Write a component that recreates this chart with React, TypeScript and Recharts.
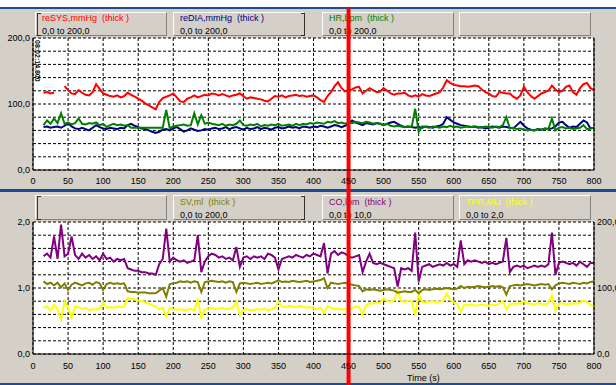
import { ComposedChart, Line, XAxis, YAxis, CartesianGrid, ReferenceLine } from "recharts";

// sampling grid of the recording, seconds
const TIME = Array.from({ length: 158 }, (_, i) => 15 + i * 5);

const X_TICKS = [0, 50, 100, 150, 200, 250, 300, 350, 400, 450, 500, 550, 600, 650, 700, 750, 800];
const P_TICKS = [0, 20, 40, 60, 80, 100, 120, 140, 160, 180, 200];
const TPR_TICKS = [0, 0.2, 0.4, 0.6, 0.8, 1, 1.2, 1.4, 1.6, 1.8, 2];
const CURSOR_T = 450;

const SYS = [
  117, 118, 116, 117, null, null, 127, 121, 116, 115,
  121, 117, 114, 113, 118, 130, 123, 116, 114, 112,
  111, 113, 110, 112, 117, 114, 111, 108, 105, 101,
  98, 95, 92, 103, 109, 111, 113, 116, 110, 104,
  103, 108, 110, 113, 110, 112, 114, 113, 116, 115,
  113, 115, 113, 111, 113, 114, 116, 112, 108, 110,
  109, 108, 107, 105, 104, 108, 112, 111, 113, 110,
  112, 113, 114, 112, 113, 111, 112, 113, 110, 106,
  103, 112, 118, 127, 133, 124, 119, 121, 122, 125,
  126, 116, 120, 124, 121, 118, 119, 124, 120, 116,
  114, 116, 116, 117, 113, 111, 113, 111, 115, 113,
  112, 114, 116, 118, 125, 136, 132, 129, 128, 127,
  127, 126, 127, 128, 127, 122, 118, 116, 112, 111,
  118, 117, 116, 116, 111, 108, 113, 126, 118, 112,
  108, 112, 116, 118, 120, 128, 122, 118, 120, 126,
  128, 118, 114, 124, 130, 132, 124, 121,
];

const DIA = [
  65, 66, 64, 65, 66, 64, 67, 71, 66, 63,
  62, 64, 62, 60, 64, 68, 65, 63, 62, 64,
  63, 62, 64, 63, 68, 70, 67, 65, 63, 62,
  60, 58, 56, 58, 61, 62, 60, 63, 65, 62,
  58, 60, 63, 61, 59, 60, 62, 61, 63, 64,
  62, 63, 65, 62, 64, 65, 63, 61, 64, 62,
  63, 65, 62, 64, 63, 61, 64, 65, 63, 64,
  66, 64, 65, 63, 66, 65, 64, 66, 65, 67,
  66, 64, 66, 68, 67, 65, 67, 70, 75, 72,
  70, 68, 71, 70, 69, 71, 70, 68, 70, 72,
  73, 70, 67, 65, 66, 65, 64, 65, 64, 66,
  65, 64, 66, 67, 70, 80, 76, 72, 70, 68,
  67, 66, 65, 66, 64, 65, 63, 64, 66, 65,
  64, 66, 65, 64, 63, 68, 73, 67, 63, 61,
  60, 62, 61, 63, 62, 63, 66, 72, 73, 68,
  64, 66, 65, 70, 75, 72, 63, 64,
];

const HR = [
  68, 75, 70, 78, 71, 86, 70, 72, 69, 71,
  78, 70, 69, 71, 70, 72, 68, 70, 65, 68,
  70, 68, 69, 67, 68, 64, 64, 64, 64, 64,
  64, 64, 64, 64, 64, 91, 63, 66, 67, 68,
  69, 67, 68, 86, 69, 83, 70, 72, 70, 69,
  68, 70, 67, 69, 68, 70, 75, 68, 67, 69,
  68, 70, 66, 68, 67, 69, 68, 70, 67, 68,
  69, 67, 70, 68, 70, 69, 71, 70, 72, 71,
  70, 73, 72, 74, 71, 72, 70, 72, 71, 73,
  72, 71, 73, 72, 70, 71, 70, 68, 70, 67,
  66, 67, 66, 65, 66, 65, 93, 58, 66, 65,
  64, 66, 65, 64, 66, 65, 67, 65, 66, 64,
  65, 66, 65, 66, 65, 64, 66, 65, 64, 66,
  65, 68, 80, 63, 64, 62, 63, 61, 60, 61,
  60, 62, 61, 63, 62, 78, 60, 64, 65, 63,
  64, 62, 63, 64, 68, 62, 63, 64,
];

const CO = [
  7.4, 7.6, 7.3, 8.9, 7.2, 9.8, 7.4, 7.6, 8.9, 7.5,
  7.2, 7.6, 7.3, 7.5, 7.2, 7.4, 7.1, 7.6, 7.2, 7.3,
  7.0, 7.2, 7.1, 7.2, 6.5, 6.4, 6.3, 6.3, 6.2, 6.2,
  6.1, 6.1, 6.0, 6.8, 7.2, 9.5, 7.0, 7.3, 7.1, 7.0,
  7.1, 6.9, 7.0, 7.1, 9.0, 6.2, 7.0, 7.4, 7.6, 7.5,
  7.3, 7.4, 7.2, 7.3, 7.1, 8.1, 6.6, 7.3, 7.4, 7.2,
  7.4, 7.3, 7.4, 7.2, 7.6, 7.5, 7.3, 6.4, 7.2, 7.3,
  7.4, 7.3, 7.5, 7.4, 7.3, 7.5, 7.4, 7.6, 7.5, 7.4,
  8.4, 6.1, 7.6, 7.8, 7.5, 7.7, 7.6, 7.4, 7.3, 7.4,
  7.5, 6.2, 7.0, 7.6, 6.9, 6.8, 6.9, 6.8, 6.7, 6.6,
  6.5, 5.1, 6.5, 6.4, 6.5, 6.3, 9.2, 5.5, 6.6, 6.7,
  6.8, 6.6, 6.7, 6.8, 6.7, 6.9, 6.7, 6.8, 6.6, 8.6,
  6.8, 7.1, 7.0, 7.1, 7.0, 6.9, 7.0, 6.8, 6.9, 6.8,
  6.9, 7.0, 8.8, 6.2, 6.6, 6.7, 6.6, 6.7, 6.5, 6.6,
  6.7, 6.6, 6.7, 6.6, 6.8, 9.2, 6.0, 6.9, 7.0, 6.9,
  6.8, 6.9, 6.7, 7.0, 6.8, 6.6, 6.9, 6.9,
];

const SV = [
  110, 106, 108, 104, 108, 101, 107, 97, 105, 108,
  106, 104, 107, 108, 105, 109, 107, 97, 106, 108,
  106, 107, 106, 107, 95, 94, 94, 93, 93, 93,
  92, 92, 92, 96, 100, 87, 106, 107, 108, 110,
  109, 110, 108, 110, 109, 94, 109, 110, 111, 110,
  109, 110, 108, 110, 109, 94, 107, 108, 107, 106,
  107, 108, 106, 107, 108, 107, 109, 112, 109, 110,
  109, 111, 110, 109, 110, 111, 109, 110, 111, 112,
  115, 100, 108, 107, 106, 107, 108, 106, 105, 104,
  103, 95, 98, 97, 98, 97, 96, 97, 98, 97,
  96, 93, 94, 95, 94, 94, 97, 92, 97, 98,
  97, 98, 99, 98, 99, 100, 99, 98, 99, 103,
  100, 102, 101, 102, 103, 102, 101, 102, 103, 102,
  103, 101, 90, 103, 104, 105, 104, 105, 106, 105,
  104, 105, 106, 105, 106, 98, 104, 107, 108, 107,
  106, 108, 107, 106, 108, 107, 109, 110,
];

const TPR = [
  0.70, 0.72, 0.66, 0.75, 0.68, 0.52, 0.79, 0.70, 0.55, 0.72,
  0.71, 0.68, 0.70, 0.66, 0.68, 0.67, 0.69, 0.78, 0.70, 0.71,
  0.70, 0.72, 0.71, 0.72, 0.85, 0.84, 0.83, 0.81, 0.80, 0.78,
  0.76, 0.74, 0.72, 0.68, 0.70, 0.57, 0.70, 0.68, 0.67, 0.68,
  0.66, 0.67, 0.68, 0.66, 0.82, 0.55, 0.67, 0.69, 0.70, 0.68,
  0.69, 0.70, 0.68, 0.69, 0.70, 0.79, 0.59, 0.67, 0.68, 0.66,
  0.67, 0.68, 0.67, 0.69, 0.66, 0.68, 0.70, 0.79, 0.72, 0.71,
  0.73, 0.72, 0.71, 0.73, 0.72, 0.70, 0.71, 0.69, 0.68, 0.70,
  0.62, 0.73, 0.70, 0.68, 0.69, 0.67, 0.68, 0.66, 0.69, 0.72,
  0.71, 0.60, 0.74, 0.77, 0.76, 0.78, 0.77, 0.85, 0.80, 0.79,
  0.81, 0.97, 0.80, 0.79, 0.81, 0.80, 0.59, 0.92, 0.79, 0.78,
  0.79, 0.80, 0.78, 0.79, 0.80, 0.92, 0.82, 0.78, 0.76, 0.64,
  0.75, 0.74, 0.75, 0.73, 0.74, 0.75, 0.74, 0.73, 0.75, 0.74,
  0.76, 0.80, 0.68, 0.75, 0.76, 0.77, 0.76, 0.80, 0.77, 0.76,
  0.75, 0.77, 0.76, 0.75, 0.77, 0.89, 0.66, 0.76, 0.77, 0.75,
  0.76, 0.77, 0.76, 0.78, 0.81, 0.79, 0.74, 0.72,
];

const TOP_HEADERS = [
  { name: "reSYS,mmHg  (thick )", range: "0,0 to 200,0", color: "#ff0000" },
  { name: "reDIA,mmHg  (thick )", range: "0,0 to 200,0", color: "#000080" },
  { name: "HR,bpm  (thick )", range: "0,0 to 200,0", color: "#008000" },
  { name: "", range: "", color: "#000" },
];
const BOTTOM_HEADERS = [
  { name: "", range: "", color: "#000" },
  { name: "SV,ml  (thick )", range: "0,0 to 200,0", color: "#808000" },
  { name: "CO,lpm  (thick )", range: "0,0 to 10,0", color: "#800080" },
  { name: "TPR,MU  (thick )", range: "0,0 to 2,0", color: "#ffff00" },
];
const BOX_LEFT = [35, 173, 322, 459];

const topData = TIME.map((t, i) => ({ t, sys: SYS[i], dia: DIA[i], hr: HR[i] }));
const bottomData = TIME.map((t, i) => ({ t, co: CO[i], sv: SV[i], tpr: TPR[i] }));

const FONT = '"Liberation Sans", Arial, sans-serif';
const GRAY = "#d4d0c8";
const BLUE = "#1b4b94";

const comma = (v: number) => v.toFixed(1).replace(".", ",");
const pLabel = (v: number) => (v % 100 === 0 ? comma(v) : "");
const tprLabel = (v: number) => (Math.abs(v - Math.round(v)) < 1e-6 ? comma(v) : "");

const tick = { fontSize: 9, fill: "#000", fontFamily: FONT };

function Headers({ top, height, items, textTop }: any) {
  return (
    <>
      {items.map((h: any, i: number) => (
        <div
          key={i}
          style={{
            position: "absolute", left: BOX_LEFT[i], top, width: 132, height,
            boxSizing: "border-box", border: "1px solid", borderColor: "#fff #808080 #808080 #fff",
            background: GRAY,
          }}
        >
          <div style={{ position: "absolute", left: 6, top: textTop, color: h.color, fontSize: 9, lineHeight: "10px", whiteSpace: "pre" }}>{h.name}</div>
          <div style={{ position: "absolute", left: 6, top: textTop + 13, color: "#000", fontSize: 9, lineHeight: "10px" }}>{h.range}</div>
        </div>
      ))}
      <div style={{ position: "absolute", left: 37, top: top + 1, width: 3, height: height - 3, borderLeft: "1px solid #303030", borderTop: "1px solid #303030", borderBottom: "1px solid #303030" }} />
      <div style={{ position: "absolute", left: 301, top: top + 1, width: 3, height: height - 3, borderRight: "1px solid #303030", borderTop: "1px solid #303030", borderBottom: "1px solid #303030" }} />
    </>
  );
}

export default function App() {
  return (
    <div style={{ position: "fixed", left: 0, top: 0, width: 616, height: 385, background: GRAY, fontFamily: FONT, overflow: "hidden" }}>
      <div style={{ position: "absolute", left: 0, top: 0, width: 616, height: 7, background: "#fff" }} />
      <div style={{ position: "absolute", left: 0, top: 7, width: 616, height: 2, background: BLUE }} />
      <div style={{ position: "absolute", left: 0, top: 189, width: 616, height: 3, background: BLUE }} />
      <div style={{ position: "absolute", left: 0, top: 383, width: 616, height: 2, background: BLUE }} />

      <Headers top={12} height={24} items={TOP_HEADERS} textTop={0} />
      <Headers top={195} height={25} items={BOTTOM_HEADERS} textTop={1} />

      <div style={{ position: "absolute", left: 0, top: 0, zIndex: 2 }}>
        <ComposedChart width={616} height={190} data={topData} margin={{ top: 38, right: 0, bottom: 0, left: 0 }}>
          <CartesianGrid stroke="#000" strokeDasharray="3 2" fill="#fff" fillOpacity={1} yAxisId="left" />
          <XAxis dataKey="t" type="number" domain={[0, 800]} ticks={X_TICKS} height={20} tickLine={false} tickSize={0} tickMargin={8} tick={tick} axisLine={{ stroke: "#000" }} />
          <XAxis xAxisId="top" orientation="top" type="number" domain={[0, 800]} height={0} tick={false} tickLine={false} axisLine={{ stroke: "#000" }} />
          <YAxis yAxisId="left" domain={[0, 200]} ticks={P_TICKS} width={33} tickLine={false} tickSize={1} tickFormatter={pLabel} tick={tick} axisLine={{ stroke: "#000" }} interval={0} />
          <YAxis yAxisId="right" orientation="right" domain={[0, 200]} ticks={P_TICKS} width={22} tickLine={false} tickSize={1} tickFormatter={pLabel} tick={{ ...tick, textAnchor: "start" }} axisLine={{ stroke: "#000" }} interval={0} />
          <Line yAxisId="left" dataKey="dia" stroke="#000080" strokeWidth={2} dot={false} type="linear" isAnimationActive={false} />
          <Line yAxisId="left" dataKey="hr" stroke="#008000" strokeWidth={2} dot={false} type="linear" isAnimationActive={false} />
          <Line yAxisId="left" dataKey="sys" stroke="#ff0000" strokeWidth={2} dot={false} type="linear" isAnimationActive={false} />
          <ReferenceLine yAxisId="left" ifOverflow="visible" stroke="#ff0000" strokeWidth={4}
            segment={[{ x: CURSOR_T, y: 245 }, { x: CURSOR_T, y: -31 }]} />
        </ComposedChart>
      </div>

      <div style={{ position: "absolute", left: 0, top: 190, zIndex: 2 }}>
        <ComposedChart width={616} height={195} data={bottomData} margin={{ top: 32, right: 0, bottom: 0, left: 0 }}>
          <CartesianGrid stroke="#000" strokeDasharray="3 2" fill="#fff" fillOpacity={1} yAxisId="tpr" />
          <XAxis dataKey="t" type="number" domain={[0, 800]} ticks={X_TICKS} height={31} tickLine={false} tickSize={0} tickMargin={9} tick={tick} axisLine={{ stroke: "#000" }} />
          <XAxis xAxisId="top" orientation="top" type="number" domain={[0, 800]} height={0} tick={false} tickLine={false} axisLine={{ stroke: "#000" }} />
          <YAxis yAxisId="tpr" domain={[0, 2]} ticks={TPR_TICKS} width={33} tickLine={false} tickSize={1} tickFormatter={tprLabel} tick={tick} axisLine={{ stroke: "#000" }} interval={0} />
          <YAxis yAxisId="sv" orientation="right" domain={[0, 200]} ticks={P_TICKS} width={22} tickLine={false} tickSize={1} tickFormatter={pLabel} tick={{ ...tick, textAnchor: "start" }} axisLine={{ stroke: "#000" }} interval={0} />
          <YAxis yAxisId="co" orientation="right" domain={[0, 10]} width={0} hide />
          <Line yAxisId="tpr" dataKey="tpr" stroke="#ffff00" strokeWidth={2} dot={false} type="linear" isAnimationActive={false} />
          <Line yAxisId="sv" dataKey="sv" stroke="#808000" strokeWidth={2} dot={false} type="linear" isAnimationActive={false} />
          <Line yAxisId="co" dataKey="co" stroke="#800080" strokeWidth={2} dot={false} type="linear" isAnimationActive={false} />
          <ReferenceLine yAxisId="tpr" ifOverflow="visible" stroke="#ff0000" strokeWidth={4}
            segment={[{ x: CURSOR_T, y: 2.5 }, { x: CURSOR_T, y: -0.5 }]} />
        </ComposedChart>
      </div>

      <div style={{ position: "absolute", left: 34, top: 40, zIndex: 3, writingMode: "vertical-rl", fontSize: 7, fontWeight: "bold", lineHeight: "7px", color: "#000" }}>08:02:14.800</div>
      <div style={{ position: "absolute", left: 407, top: 373, zIndex: 3, fontSize: 9, color: "#000" }}>Time (s)</div>
    </div>
  );
}
